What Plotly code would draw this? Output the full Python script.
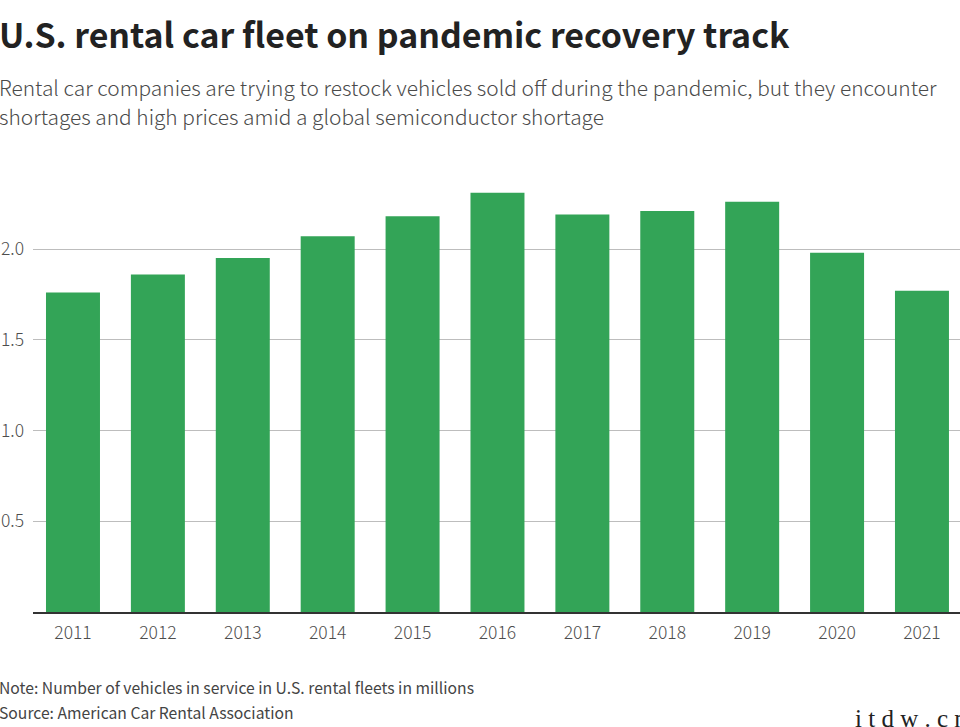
import plotly.graph_objects as go

years = ["2011","2012","2013","2014","2015","2016","2017","2018","2019","2020","2021"]
fleet = [1.76,1.86,1.95,2.07,2.18,2.31,2.19,2.21,2.26,1.98,1.77]
y_ticks = [0.5,1.0,1.5,2.0]
y_labels = ["0.5","1.0","1.5","2.0"]
title = "<b>U.S. rental car fleet on pandemic recovery track</b>"
subtitle = ["Rental car companies are trying to restock vehicles sold off during the pandemic, but they encounter",
            "shortages and high prices amid a global semiconductor shortage"]
notes = ["Note: Number of vehicles in service in U.S. rental fleets in millions",
         "Source: American Car Rental Association"]
font = "Noto Sans CJK SC"
H = 727

def txt(text, px, py, size, color, weight=None, family=font):
    return dict(text=text, x=px/960, y=1-py/H, xref="paper", yref="paper", xanchor="left", yanchor="middle",
                showarrow=False, borderpad=0, borderwidth=0,
                font=dict(size=size, color=color, family=family, weight=weight))

tick_font = dict(size=17.5, color="#4d4d4d", weight=300)
fig = go.Figure(go.Bar(x=list(range(len(years))), y=fleet, marker_color="#33a457", marker_line_width=0, width=0.636))
fig.update_layout(
    width=960, height=H, margin=dict(l=0,r=0,t=0,b=0), autosize=False,
    paper_bgcolor="white", plot_bgcolor="white", showlegend=False,
    font=dict(family=font, color="#4d4d4d", size=17.5, weight=300),
    xaxis=dict(domain=[33/960,1], range=[-0.471,10.448], tickmode="array", tickvals=list(range(len(years))), ticktext=years,
               showline=True, linecolor="#333333", linewidth=1.5,
               showgrid=False, ticks="", ticklabelstandoff=4, tickfont=tick_font),
    yaxis=dict(domain=[1-612/H,1-170/H], range=[0,442/181.5], tickvals=y_ticks, ticktext=y_labels,
               showline=False, zeroline=False, gridcolor="#bdbdbd", gridwidth=1.3, ticks="", ticklabelstandoff=8,
               tickfont=tick_font),
    annotations=[
        txt(title, -1, 34, 33.9, "#222222", 400),
        txt(subtitle[0], -1, 87, 20.9, "#4a4a4a", 300),
        txt(subtitle[1], -1, 116, 20.9, "#4a4a4a", 300),
        txt(notes[0], -1, 687.5, 15.7, "#444444", 400),
        txt(notes[1], -1, 712, 15.7, "#444444", 400),
        txt("i t d w . c n", 855, 718, 25, "#222222", 400, "Liberation Serif"),
    ],
)
fig.write_html("out.html", config=dict(displayModeBar=False),
               post_script="document.body.style.margin='0';document.body.style.overflow='hidden';")
